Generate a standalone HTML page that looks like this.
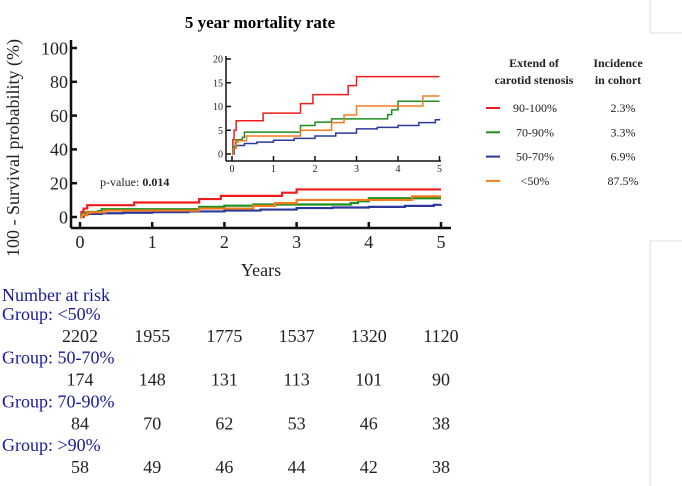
<!DOCTYPE html>
<html><head><meta charset="utf-8"><style>
body{margin:0;background:#fff;width:682px;height:486px;overflow:hidden}
svg{display:block}
text{font-family:"Liberation Serif",serif}
</style></head><body>
<svg id="c" width="682" height="486">
<line x1="650" y1="0" x2="650" y2="33" stroke="#ddd"/>
<line x1="650" y1="33" x2="682" y2="33" stroke="#ddd"/>
<line x1="650" y1="241" x2="650" y2="486" stroke="#ddd"/>
<line x1="650" y1="241" x2="682" y2="241" stroke="#ddd"/>
<text x="260" y="28" font-size="17" font-weight="bold" text-anchor="middle">5 year mortality rate</text>
<text transform="translate(19,148) rotate(-90)" font-size="18" text-anchor="middle" fill="#222">100 - Survival probability (%)</text>
<text x="261" y="276" font-size="18" text-anchor="middle" fill="#222">Years</text>
<text x="100" y="186" font-size="12" fill="#222">p-value: <tspan font-weight="bold">0.014</tspan></text>
<g id="main"></g>
<g id="inset"></g>
<g font-size="12" font-weight="bold" fill="#222" text-anchor="middle">
<text x="534" y="67">Extend of</text><text x="534" y="84">carotid stenosis</text>
<text x="618" y="67">Incidence</text><text x="618" y="84">in cohort</text>
</g>
<g id="legend"></g>
<g id="risk">
<text x="2" y="301" font-size="18" fill="#1a1a9a">Number at risk</text>
</g>
</svg>
<script>
const NS="http://www.w3.org/2000/svg";
const groups=["90-100%","70-90%","50-70%","<50%"];
const colors=["#ee1c1c","#1e8f1e","#2b3a9a","#f57c20"];
const incidence=["2.3%","3.3%","6.9%","87.5%"];
const redT=[0,0.02,0.05,0.1,0.75,1.65,1.95,2.8,3.0,5];
const redV=[0,3,5,7,8.6,10.6,12.5,14.4,16.3,16.3];
const greenT=[0,0.02,0.08,0.1,0.25,0.3,1.65,2.0,2.4,3.75,3.85,4.0,5];
const greenV=[0,1.5,2.5,3,3.5,4.6,6,6.7,7.4,8.3,9.3,11.1,11.1];
const blueT=[0,0.05,0.1,0.3,0.6,1,1.5,2,2.5,3,3.5,4,4.5,4.9,5];
const blueV=[0,1.2,1.8,2.2,2.5,2.9,3.3,3.8,4.4,5.3,5.6,6,6.6,7.2,7.4];
const orangeT=[0,0.03,0.1,0.15,0.35,1.65,2.4,2.7,3.0,4.6,5];
const orangeV=[0,1.2,2.5,2.8,3.8,5,6.6,8.2,10.1,12.2,12.2];
const seriesT=[redT,greenT,blueT,orangeT];
const seriesV=[redV,greenV,blueV,orangeV];
const xTicks=[0,1,2,3,4,5];
const mainYTicks=[0,20,40,60,80,100];
const insetYTicks=[0,5,10,15,20];
const riskLabels=["Group: <50%","Group: 50-70%","Group: 70-90%","Group: >90%"];
const riskLt50=[2202,1955,1775,1537,1320,1120];
const risk5070=[174,148,131,113,101,90];
const risk7090=[84,70,62,53,46,38];
const riskGt90=[58,49,46,44,42,38];
const riskRows=[riskLt50,risk5070,risk7090,riskGt90];

function el(t,a,p){const e=document.createElementNS(NS,t);for(const k in a)e.setAttribute(k,a[k]);p.appendChild(e);return e;}
function stepPath(T,V,sx,sy){let d="M"+sx(T[0])+","+sy(V[0]);for(let i=1;i<T.length;i++){d+=" H"+sx(T[i])+" V"+sy(V[i]);}return d;}

function axes(g,sx,sy,yt,x0,yAx,yTop,xEnd,fs,tl,sw,tickFs){
  let a=el("line",{x1:x0,y1:yTop,x2:x0,y2:yAx,stroke:"#111","stroke-width":sw},g);
  
  a=el("line",{x1:x0,y1:yAx,x2:xEnd,y2:yAx,stroke:"#111","stroke-width":sw},g);
  
  xTicks.forEach(v=>{el("line",{x1:sx(v),y1:yAx,x2:sx(v),y2:yAx-tl,stroke:"#111","stroke-width":sw},g);
    const t=el("text",{x:sx(v),y:yAx+tickFs*1.1,"font-size":tickFs,"text-anchor":"middle",fill:"#222"},g);t.textContent=v;
    });
  yt.forEach(v=>{el("line",{x1:x0,y1:sy(v),x2:x0+tl,y2:sy(v),stroke:"#111","stroke-width":sw},g);
    const t=el("text",{x:x0-3,y:sy(v)+fs*0.35,"font-size":fs,"text-anchor":"end",fill:"#222"},g);t.textContent=v;
    });
}
// main
const mg=document.getElementById("main");
const msx=v=>80+v*72.2, msy=v=>217-v*1.69;
axes(mg,msx,msy,mainYTicks,71,228,40,451,18,6,2.5,18);
seriesT.forEach((T,i)=>{const p=el("path",{d:stepPath(T,seriesV[i],msx,msy),fill:"none",stroke:colors[i],"stroke-width":2.2},mg);
  });
// inset
const ig=document.getElementById("inset");
const isx=v=>232+v*41.5, isy=v=>154-v*4.75;
axes(ig,isx,isy,insetYTicks,226,161,56,441,10,5,1.5,10);
seriesT.forEach((T,i)=>{const p=el("path",{d:stepPath(T,seriesV[i],isx,isy),fill:"none",stroke:colors[i],"stroke-width":1.5},ig);
  });
// legend
const lg=document.getElementById("legend");
groups.forEach((g,i)=>{const y=108+i*24.3;
  const l=el("line",{x1:486,y1:y,x2:500,y2:y,stroke:colors[i],"stroke-width":2},lg);
  
  let t=el("text",{x:535,y:y+4,"font-size":12,"text-anchor":"middle",fill:"#222"},lg);t.textContent=g;
  
  t=el("text",{x:623,y:y+4,"font-size":12,"text-anchor":"middle",fill:"#222"},lg);t.textContent=incidence[i];
  });
// risk
const rg=document.getElementById("risk");
riskLabels.forEach((lab,i)=>{const y=320+i*43.7;
  let t=el("text",{x:2,y:y,"font-size":18,fill:"#1a1a9a"},rg);t.textContent=lab;
  
  riskRows[i].forEach((n,j)=>{const tt=el("text",{x:msx(xTicks[j]),y:y+22,"font-size":18,"text-anchor":"middle",fill:"#222"},rg);tt.textContent=n;
    });});
</script>
</body></html>
